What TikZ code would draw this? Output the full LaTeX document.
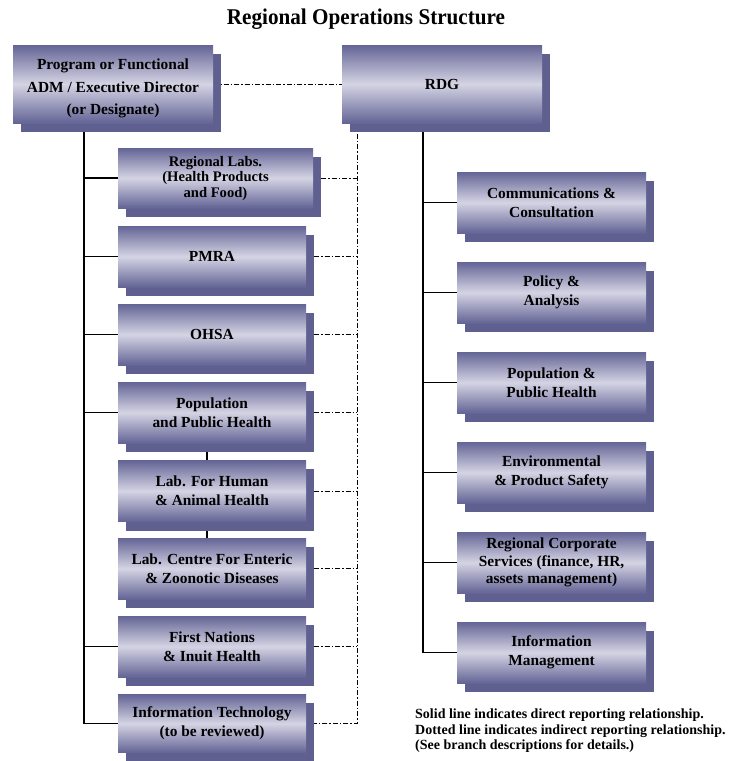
\documentclass[tikz,border=0pt]{standalone}
\usepackage{fontspec}
\setmainfont{Liberation Serif}
\usetikzlibrary{backgrounds}
\definecolor{boxdark}{RGB}{100,100,150}
\definecolor{boxlight}{RGB}{212,212,228}
\definecolor{boxshadow}{RGB}{96,96,144}
\newcommand\boxfont{\fontsize{15.4}{19}\selectfont\bfseries}
\begin{document}
\begin{tikzpicture}[x=1pt,y=-1pt,
  orgbox/.style={shade, top color=boxdark, bottom color=boxdark, middle color=boxlight,
    inner sep=0pt, align=center, font=\boxfont},
  leftbox/.style={orgbox, minimum width=188, minimum height=61},
  rightbox/.style={orgbox, minimum width=189, minimum height=61},
  solidline/.style={line width=1.1pt, black},
  indirect/.style={line width=1pt, black, dash pattern=on 5pt off 2pt on 1.5pt off 2pt},
]
\useasboundingbox (0,0) rectangle (736,761);

% title
\node[font=\fontsize{22.5}{24}\selectfont\bfseries, xscale=0.94] (title) at (366,19)
  {Regional Operations Structure};

% top level
\node[orgbox, minimum width=200, minimum height=78,
  font=\fontsize{15.4}{22.5}\selectfont\bfseries] (adm) at (113,84)
  {\rule{0pt}{20pt}Program or Functional\\ADM / Executive Director\\(or Designate)};
\node[orgbox, minimum width=200, minimum height=78] (rdg) at (442,84) {RDG};

% left column
\node[orgbox, minimum width=195, minimum height=60,
  font=\fontsize{14.6}{15.5}\selectfont\bfseries] (labs) at (215.5,178)
  {Regional Labs.\\(Health Products\\and Food)};
\node[leftbox] (pmra) at (212,256.5) {PMRA};
\node[leftbox] (ohsa) at (212,334.5) {OHSA};
\node[leftbox] (pop) at (212,412.5) {Population\\and Public Health};
\node[leftbox] (human) at (212,491) {Lab. For Human\\\& Animal Health};
\node[leftbox] (centre) at (212,568.5) {Lab. Centre For Enteric\\\& Zoonotic Diseases};
\node[leftbox] (fn) at (212,646.5) {First Nations\\\& Inuit Health};
\node[leftbox, minimum height=58] (it) at (212,723.5) {Information Technology\\(to be reviewed)};

% right column
\node[rightbox] (comm) at (551.5,202.5) {Communications \&\\Consultation};
\node[rightbox] (policy) at (551.5,292.5) {Policy \&\\Analysis};
\node[rightbox] (pph) at (551.5,382.5) {Population \&\\Public Health};
\node[rightbox] (env) at (551.5,472.5) {Environmental\\\& Product Safety};
\node[rightbox, font=\fontsize{15.4}{17.5}\selectfont\bfseries] (corp) at (551.5,562.5)
  {Regional Corporate\\Services (finance, HR,\\assets management)};
\node[rightbox] (info) at (551.5,652.5) {Information\\Management};

% legend
\node[anchor=north west, align=left, inner sep=0pt,
  font=\fontsize{14}{15.5}\selectfont\bfseries] (note) at (415,709)
  {Solid line indicates direct reporting relationship.\\
   Dotted line indicates indirect reporting relationship.\\
   (See branch descriptions for details.)};

\coordinate (ltrunk) at (84,723.5);
\coordinate (rtrunk) at (423,652.5);
\coordinate (dtrunk) at (357,725);

\begin{scope}[on background layer]
  % direct reporting, left
  \draw[solidline] (adm.south -| ltrunk) |- (it.west);
  \foreach \n in {labs,pmra,ohsa,pop,fn}
    \draw[solidline] (ltrunk |- \n.west) -- (\n.west);
  \draw[solidline] ([xshift=-5pt]pop.south) -- ([xshift=-5pt]human.north);
  \draw[solidline] ([xshift=-5pt]human.south) -- ([xshift=-5pt]centre.north);
  % direct reporting, right
  \draw[solidline] (rdg.south -| rtrunk) |- (info.west);
  \foreach \n in {comm,policy,pph,env,corp}
    \draw[solidline] (rtrunk |- \n.west) -- (\n.west);
  % indirect reporting
  \draw[indirect] (adm.east) -- (rdg.west);
  \draw[indirect] (rdg.south -| dtrunk) |- ([shift={(8,0)}]it.east);
  \foreach \n in {labs,pmra,ohsa,pop,human,centre,fn}
    \draw[indirect] ([shift={(8,0)}]\n.east) -- (dtrunk |- \n.east);
  % drop shadows
  \foreach \n in {adm,rdg,labs,pmra,ohsa,pop,human,centre,fn,it,comm,policy,pph,env,corp,info}
    \fill[boxshadow] ([shift={(8,9)}]\n.north west) rectangle ([shift={(8,9)}]\n.south east);
\end{scope}
\end{tikzpicture}
\end{document}
